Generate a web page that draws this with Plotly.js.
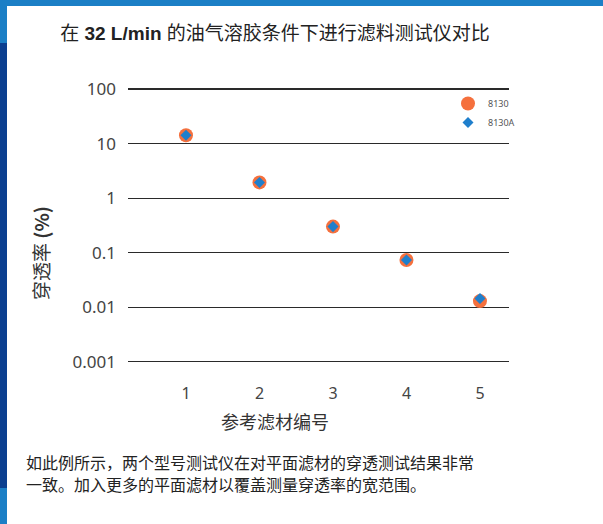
<!DOCTYPE html>
<html><head><meta charset="utf-8">
<script src="https://cdn.plot.ly/plotly-3.0.1.min.js"></script>
<style>
html,body{margin:0;padding:0;background:#fff;}
#wrap{position:relative;width:603px;height:524px;overflow:hidden;}
#chart{position:absolute;left:0;top:0;width:603px;height:524px;}
.band{position:absolute;}
</style></head>
<body><div id="wrap">
<div class="band" style="left:0;top:0;width:603px;height:6px;background:#1b7fc6"></div>
<div class="band" style="left:0;top:0;width:7px;height:43px;background:#1b7fc6"></div>
<div class="band" style="left:0;top:43px;width:7px;height:445px;background:#0b3f90"></div>
<div class="band" style="left:0;top:488px;width:7px;height:36px;background:#1b7fc6"></div>
<div id="chart"></div>
</div>
<script>
const filters = [1, 2, 3, 4, 5];
const pen8130 = [14.2, 1.94, 0.30, 0.073, 0.0129];
const pen8130A = [14.2, 1.94, 0.30, 0.073, 0.0144];
const yTickVals = [0.001, 0.01, 0.1, 1, 10, 100];
const yTickText = ['0.001', '0.01', '0.1', '1', '10', '100'];
const xTickText = ['1', '2', '3', '4', '5'];
const captionLines = ['如此例所示，两个型号测试仪在对平面滤材的穿透测试结果非常',
                      '一致。加入更多的平面滤材以覆盖测量穿透率的宽范围。'];

const W = 603, H = 524;
const mL = 128, mR = 94, mT = 88, mB = 146;
const pw = W - mL - mR, ph = H - mT - mB;
const px = x => (x - mL) / pw;
const py = y => (H - mB - y) / ph;

const cjk = '"Noto Sans CJK SC", "Noto Sans", sans-serif';
const num = '"Noto Sans", "Noto Sans CJK SC", sans-serif';

const traces = [
  {x: filters, y: pen8130, name: '8130', type: 'scatter', mode: 'markers',
   marker: {symbol: 'circle', size: 14, color: '#f5703d'}},
  {x: filters, y: pen8130A, name: '8130A', type: 'scatter', mode: 'markers',
   marker: {symbol: 'diamond', size: 8.5, color: '#1f7fcc'}}
];

const annotations = [
  {text: '参考滤材编号', xref: 'paper', yref: 'paper', x: px(275), y: py(421),
   xanchor: 'center', yanchor: 'middle', showarrow: false,
   font: {family: cjk, size: 18, color: '#333'}},
  {text: '穿透率 <b>(%)</b>', xref: 'paper', yref: 'paper', x: px(40), y: py(253),
   xanchor: 'center', yanchor: 'middle', showarrow: false, textangle: -90,
   font: {family: cjk, size: 19, color: '#333'}}
];
captionLines.forEach((t, i) => annotations.push({
  text: t, xref: 'paper', yref: 'paper', x: px(25), y: py(462 + 22 * i),
  xanchor: 'left', yanchor: 'middle', align: 'left', showarrow: false, borderpad: 0,
  font: {family: cjk, size: 16, color: '#222'}
}));

const layout = {
  width: W, height: H,
  margin: {l: mL, r: mR, t: mT, b: mB, pad: 0},
  paper_bgcolor: 'rgba(0,0,0,0)', plot_bgcolor: 'rgba(0,0,0,0)',
  showlegend: true,
  legend: {x: px(448), y: py(89), xanchor: 'left', yanchor: 'top',
    font: {family: num, size: 9, color: '#555'}, bgcolor: 'rgba(0,0,0,0)',
    tracegroupgap: 0, itemsizing: 'trace'},
  title: {text: '在 <b>32 L/min</b> 的油气溶胶条件下进行滤料测试仪对比',
    font: {family: '"Liberation Sans", "Noto Sans CJK SC", sans-serif', size: 19, color: '#222'},
    xref: 'paper', x: px(275), xanchor: 'center', yref: 'container', y: 1 - 33 / H, yanchor: 'middle'},
  xaxis: {type: 'linear', range: [0.211, 5.395], tickvals: filters, ticktext: xTickText,
    showgrid: false, zeroline: false, showline: false, ticks: '',
    tickfont: {family: num, size: 16, color: '#444'}, ticklabelstandoff: 4},
  yaxis: {type: 'log', range: [Math.log10(0.001) - 0.3, Math.log10(100) + 0.02],
    tickvals: yTickVals, ticktext: yTickText,
    showgrid: true, gridcolor: '#2a2a2a', gridwidth: 1.2, zeroline: false, showline: false, ticks: '',
    tickfont: {family: num, size: 17, color: '#444'}, ticklabelstandoff: 11},
  annotations: annotations
};

Plotly.newPlot('chart', traces, layout, {displayModeBar: false, staticPlot: true});
</script></body></html>
